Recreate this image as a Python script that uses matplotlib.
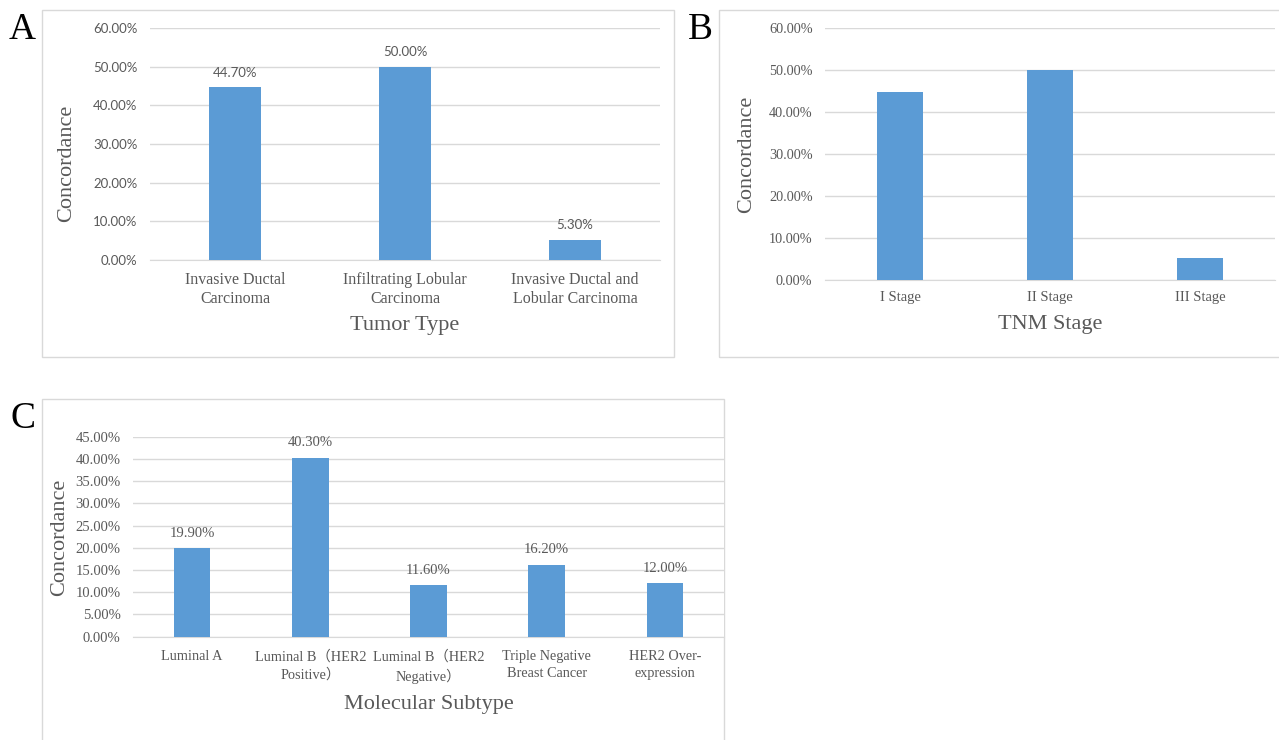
import matplotlib
matplotlib.use("Agg")
import matplotlib.pyplot as plt
from matplotlib.patches import Rectangle
from matplotlib.ticker import FuncFormatter, MultipleLocator

# data
tumor_types = ["Invasive Ductal\nCarcinoma", "Infiltrating Lobular\nCarcinoma",
               "Invasive Ductal and\nLobular Carcinoma"]
tumor_vals = [44.7, 50.0, 5.3]

tnm_stages = ["I Stage", "II Stage", "III Stage"]
tnm_vals = [44.7, 50.0, 5.3]

subtypes = ["Luminal A", "Luminal B（HER2\nPositive）", "Luminal B（HER2\nNegative）",
            "Triple Negative\nBreast Cancer", "HER2 Over-\nexpression"]
subtype_vals = [19.9, 40.3, 11.6, 16.2, 12.0]

W, H = 1279, 740
BAR = "#5b9bd5"
GRID = "#d9d9d9"
TXT = "#595959"
SERIF = ["Liberation Serif", "Noto Sans CJK SC", "DejaVu Serif"]
SANS = ["Lato", "DejaVu Sans"]

fig = plt.figure(figsize=(W / 100, H / 100), dpi=100)


def box(x0, y0, x1, y1):
    # axes rect from pixel coords (top-left origin)
    return [x0 / W, 1 - y1 / H, (x1 - x0) / W, (y1 - y0) / H]


def pt(x, y):
    return x / W, 1 - y / H


def panel(rect, cats, vals, ymax, step, tick_font, tick_size, cat_size, cat_pad, cat_ls,
          xlabel, xlab_xy, ylab_xy, show_vals=False, val_font=None, val_size=10):
    ax = fig.add_axes(box(*rect))
    x = range(len(cats))
    ax.bar(x, vals, width=0.31, color=BAR, zorder=3)
    ax.set_xlim(-0.5, len(cats) - 0.5)
    ax.set_ylim(0, ymax)
    ax.yaxis.set_major_locator(MultipleLocator(step))
    ax.yaxis.set_major_formatter(FuncFormatter(lambda v, p: f"{v:.2f}%"))
    ax.grid(axis="y", color=GRID, lw=1, zorder=0)
    for s in ["top", "right", "left"]:
        ax.spines[s].set_visible(False)
    ax.spines["bottom"].set_color(GRID)
    ax.tick_params(length=0, colors=TXT)
    ax.tick_params(axis="y", pad=9)
    ax.tick_params(axis="x", pad=cat_pad)
    ax.set_xticks(list(x))
    ax.set_xticklabels(cats, family=SERIF, fontsize=cat_size, color=TXT,
                       linespacing=cat_ls)
    for t in ax.get_yticklabels():
        t.set_family(tick_font)
        t.set_fontsize(tick_size)
    if show_vals:
        for i, v in enumerate(vals):
            ax.annotate(f"{v:.2f}%", (i, v), xytext=(0, 6), textcoords="offset points",
                        ha="center", va="bottom", family=val_font,
                        fontsize=val_size, color=TXT)
    ax.set_xlabel(xlabel, family=SERIF, fontsize=16, color=TXT, va="center")
    ax.xaxis.set_label_coords(*pt(*xlab_xy), transform=fig.transFigure)
    ax.set_ylabel("Concordance", family=SERIF, fontsize=16, color=TXT, va="center")
    ax.yaxis.set_label_coords(*pt(*ylab_xy), transform=fig.transFigure)
    return ax


# panel A
panel((150, 28, 660, 260), tumor_types, tumor_vals, 60, 10, SANS, 9.5, 11.5, 8.5, 1.3,
      "Tumor Type", (405, 326), (67, 163), show_vals=True, val_font=SANS, val_size=9.5)
# panel B
panel((825, 28, 1275, 280), tnm_stages, tnm_vals, 60, 10, SERIF, 10.3, 10.5, 8, 1.3,
      "TNM Stage", (1050, 324), (747, 154))
# panel C
panel((133, 436.7, 724, 636.7), subtypes, subtype_vals, 45, 5, SERIF, 10.5, 10.3, 9.5, 1.45,
      "Molecular Subtype", (429, 704), (60, 537), show_vals=True, val_font=SERIF, val_size=10.5)

# panel frames
for x0, y0, x1, y1 in [(42, 10, 674, 357), (719, 10, 1285, 357), (42, 399, 724, 745)]:
    fig.add_artist(Rectangle(pt(x0, y1), (x1 - x0) / W, (y1 - y0) / H,
                             transform=fig.transFigure, fill=False,
                             edgecolor=GRID, lw=1, zorder=0))

for letter, (lx, ly) in [("A", (9, 30)), ("B", (688, 30)), ("C", (11, 419))]:
    fig.text(*pt(lx, ly), letter, family=SERIF, fontsize=27, ha="left", va="center")

fig.savefig("out.png", dpi=100)
